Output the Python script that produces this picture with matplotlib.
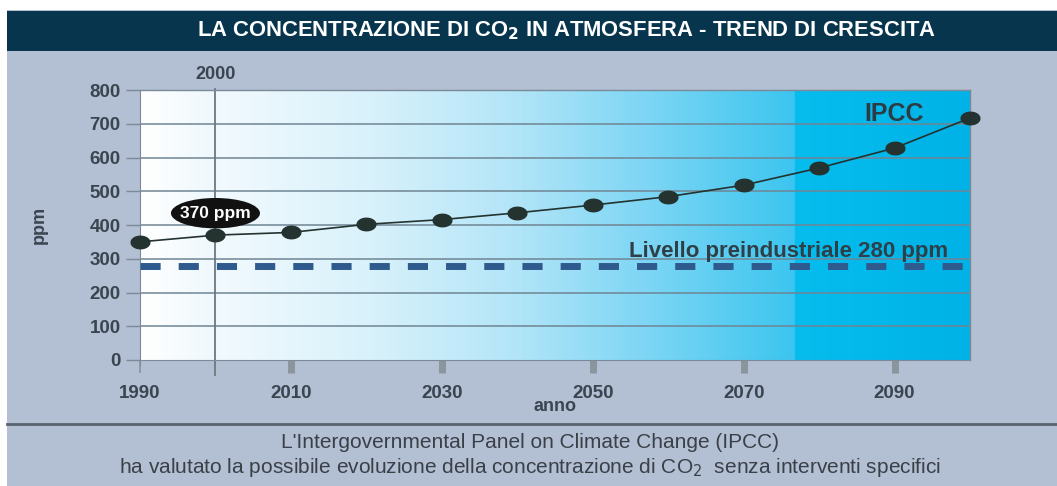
import numpy as np
import matplotlib.pyplot as plt
from matplotlib.colors import LinearSegmentedColormap
from matplotlib.patches import Rectangle, Ellipse
from matplotlib.path import Path

plt.rcParams['font.family'] = ['Liberation Sans', 'DejaVu Sans']

# CO2 concentration scenario (ppm) by year
anni = [1990, 2000, 2010, 2020, 2030, 2040, 2050, 2060, 2070, 2080, 2090, 2100]
ppm = [350, 370, 378, 402, 416, 436, 459, 484, 518, 569, 628, 717]
livello_preindustriale = 280
xtick_anni = [1990, 2010, 2030, 2050, 2070, 2090]
ytick_ppm = [0, 100, 200, 300, 400, 500, 600, 700, 800]

W, H = 1057, 486
fig = plt.figure(figsize=(W / 100, H / 100), dpi=100)
fig.patch.set_facecolor('white')

def fx(px):
    return px / W

def fy(py):
    return 1 - py / H

# grey-blue panel and dark title band
fig.patches.append(Rectangle((fx(7), 0), 1 - fx(7), fy(10), transform=fig.transFigure,
                             facecolor='#b3bfd3', edgecolor='none', zorder=-2))
fig.patches.append(Rectangle((fx(7), fy(51)), 1 - fx(7), fy(11) - fy(51), transform=fig.transFigure,
                             facecolor='#06354d', edgecolor='none', zorder=-1))
fig.text(fx(566), fy(31), 'LA CONCENTRAZIONE DI CO$_\\mathbf{2}$ IN ATMOSFERA - TREND DI CRESCITA',
         ha='center', va='center', color='white', fontsize=15.8, fontweight='bold')

# separator line and footnote
fig.add_artist(plt.Line2D([fx(7), 1], [fy(424), fy(424)], transform=fig.transFigure,
                          color='#5a6470', lw=2))
fig.text(fx(530), fy(442), "L'Intergovernmental Panel on Climate Change (IPCC)",
         ha='center', va='center', color='#3a4048', fontsize=15)
fig.text(fx(530), fy(467), 'ha valutato la possibile evoluzione della concentrazione di CO$_2$  senza interventi specifici',
         ha='center', va='center', color='#3a4048', fontsize=15)

ax = fig.add_axes([fx(140), fy(360), fx(970) - fx(140), fy(90) - fy(360)])
ax.set_xlim(1990, 2100)
ax.set_ylim(0, 800)

# white-to-cyan background gradient
grad = LinearSegmentedColormap.from_list('cielo', [
    (0.0, '#ffffff'), (0.09, '#eef8fd'), (0.091, '#f2fafe'), (0.28, '#d8f1fb'),
    (0.45, '#b3e5f8'), (0.62, '#7ad5f4'), (0.789, '#3cc5ef'),
    (0.79, '#06bdee'), (1.0, '#00b2e7')])
ax.imshow(np.linspace(0, 1, 512).reshape(1, -1), cmap=grad, aspect='auto',
          extent=[1990, 2100, 0, 800], zorder=0)

for v in ytick_ppm[1:-1]:
    ax.axhline(v, color='#6f8593', lw=1.1, zorder=1)

# year 2000 marker line extends outside the plot
ax.plot([2000, 2000], [-45, 803], color='#6b7781', lw=1.3, clip_on=False, zorder=2)
ax.text(2000, 845, '2000', ha='center', va='center', fontsize=13, fontweight='bold',
        color='#3a4550', clip_on=False)

ax.plot([1990, 2100], [livello_preindustriale] * 2, color='#2f5a8e', lw=5,
        dashes=(2.9, 2.6), zorder=3)
ax.text(2076, livello_preindustriale + 42, 'Livello preindustriale 280 ppm', ha='center',
        va='center', fontsize=16, fontweight='bold', color='#2f3f48', zorder=4)

# elliptical dot markers
t = np.linspace(0, 2 * np.pi, 40)
dot = Path(np.column_stack([1.5 * np.cos(t), np.sin(t)]))
ax.plot(anni, ppm, color='#24332f', lw=1.2, marker=dot, markersize=13.5, zorder=5,
        clip_on=False)
ax.text(2090, 730, 'IPCC', ha='center', va='center', fontsize=18, fontweight='bold',
        color='#2d3c44', zorder=4)

ax.add_patch(Ellipse((2000, 435), 11.8, 90, facecolor='#111111', edgecolor='none',
                     zorder=6, clip_on=False))
ax.text(2000, 435, '370 ppm', ha='center', va='center', fontsize=12.5, fontweight='bold',
        color='white', zorder=7)

for s in ['top', 'right']:
    ax.spines[s].set_color('#7a8a96')
    ax.spines[s].set_linewidth(1)
ax.spines['bottom'].set_color('#7a8a96')
ax.spines['left'].set_color('#7a8a96')
ax.spines['left'].set_bounds(-15, 800)

ax.set_yticks(ytick_ppm)
ax.set_xticks(xtick_anni)
ax.tick_params(axis='y', length=10, width=1, color='#7a8a96', labelsize=13.5,
               labelcolor='#3a4550', pad=4)
ax.tick_params(axis='x', length=9, width=5, color='#8b959d', labelsize=13.5,
               labelcolor='#3a4550', pad=9)
ax.xaxis.get_major_ticks()[0].tick1line.set_markeredgewidth(1.2)
for lbl in ax.get_xticklabels() + ax.get_yticklabels():
    lbl.set_fontweight('bold')

ax.set_xlabel('anno', fontsize=13, fontweight='bold', color='#3a4550', labelpad=-3)
ax.set_ylabel('ppm', fontsize=13, fontweight='bold', color='#3a4550', labelpad=30)

fig.savefig('out.png', dpi=100, facecolor=fig.get_facecolor())
